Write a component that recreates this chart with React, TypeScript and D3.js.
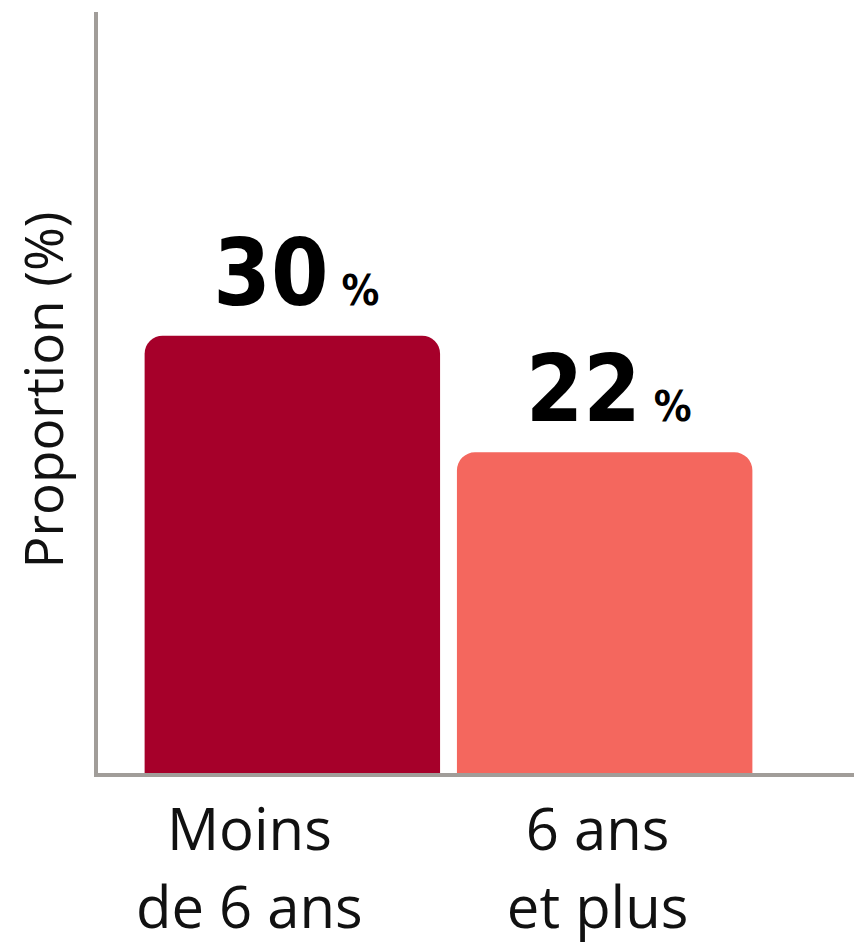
import React from "react";
import * as d3 from "d3";

const categories = ["Moins de 6 ans", "6 ans et plus"];
const categoryLines = [["Moins", "de 6 ans"], ["6 ans", "et plus"]];
const values = [30, 22];
const colors = ["#a6002a", "#f4675e"];
const yLabel = "Proportion (%)";

const W = 854, H = 944;
const x0 = 97, baseline = 773, top = 12;
const labelShift = [-43, -7];

function roundedTop(x: number, y: number, w: number, h: number, r: number) {
  const p = d3.path();
  p.moveTo(x, y + h);
  p.lineTo(x, y + r);
  p.arcTo(x, y, x + r, y, r);
  p.lineTo(x + w - r, y);
  p.arcTo(x + w, y, x + w, y + r, r);
  p.lineTo(x + w, y + h);
  p.closePath();
  return p.toString();
}

export default function App() {
  const y = d3.scaleLinear().domain([0, 52.2]).range([baseline, top]);
  const x = d3.scaleBand().domain(categories).range([129, 768]).paddingInner(0.054).paddingOuter(0.05);
  return (
    <svg width={W} height={H} style={{ position: "absolute", left: 0, top: 0 }}>
      {categories.map((c, i) => {
        const bx = x(c)!;
        const bw = x.bandwidth();
        const by = y(values[i]);
        return (
          <g key={c}>
            <path d={roundedTop(bx, by, bw, baseline - by, 18)} fill={colors[i]} />
            <text
              x={bx + bw / 2 + 4}
              y={by - 31}
              textAnchor="middle"
              fontFamily="'DejaVu Sans Condensed', 'DejaVu Sans', sans-serif"
              fontWeight="bold"
              fill="#000"
            >
              <tspan fontSize={92}>{values[i]}</tspan>
              <tspan fontSize={42} dx={13}>%</tspan>
            </text>
            {categoryLines[i].map((l, j) => (
              <text
                key={j}
                x={bx + bw / 2 + labelShift[i]}
                y={850 + j * 78}
                textAnchor="middle"
                fontFamily="'Open Sans', sans-serif"
                fontSize={58}
                fill="#111"
              >
                {l}
              </text>
            ))}
          </g>
        );
      })}
      <line x1={x0 - 1} x2={x0 - 1} y1={top} y2={baseline + 2} stroke="#a19d99" strokeWidth={4} />
      <line x1={x0 - 3} x2={W} y1={baseline + 2} y2={baseline + 2} stroke="#a19d99" strokeWidth={4} />
      <text
        transform={`translate(63, ${390}) rotate(-90)`}
        textAnchor="middle"
        fontFamily="'Open Sans', sans-serif"
        fontSize={53}
        fill="#111"
      >
        {yLabel}
      </text>
    </svg>
  );
}
